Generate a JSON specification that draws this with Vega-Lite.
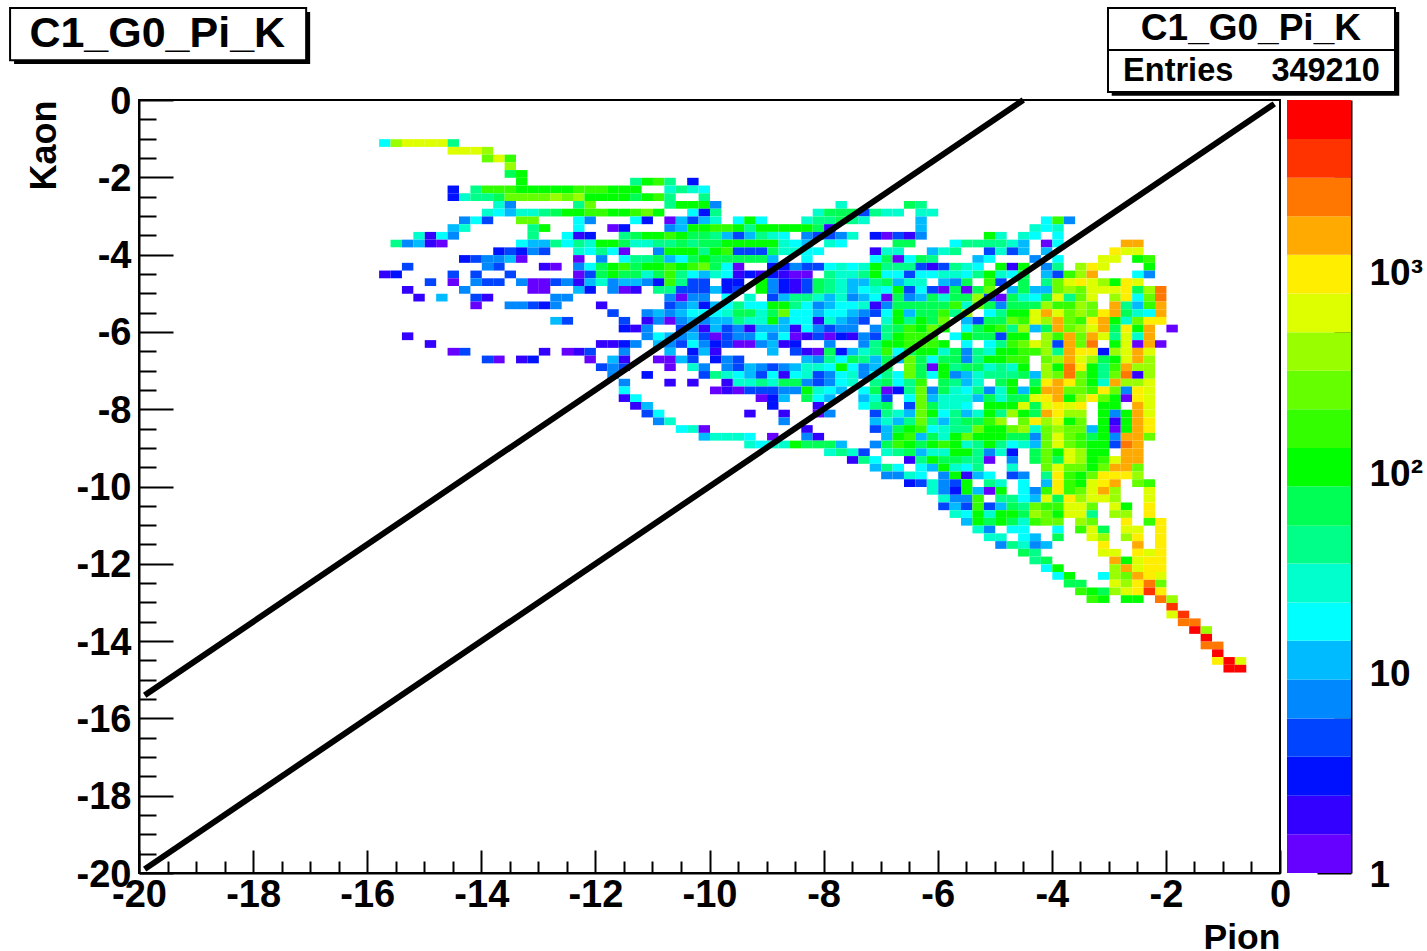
{"$schema":"https://vega.github.io/schema/vega-lite/v6.json","background":"white","padding":{"left":8,"top":6,"right":0,"bottom":0},"bounds":"flush","spacing":7,"config":{"view":{"stroke":null},"font":"Liberation Sans","axis":{"grid":false}},
"hconcat":[{"width":1141,"height":773,"view":{"stroke":"black","strokeWidth":2},"layer":[
{"data":{"values":[
{"x":-15.7,"y":-1.1,"n":18},{"x":-15.5,"y":-1.1,"n":395},{"x":-15.3,"y":-1.1,"n":610},{"x":-15.1,"y":-1.1,"n":610},{"x":-14.9,"y":-1.1,"n":610},{"x":-14.7,"y":-1.1,"n":610},{"x":-14.5,"y":-1.1,"n":43},
{"x":-14.5,"y":-1.3,"n":610},{"x":-14.3,"y":-1.3,"n":610},{"x":-14.1,"y":-1.3,"n":610},{"x":-13.9,"y":-1.3,"n":395},
{"x":-13.9,"y":-1.5,"n":255},{"x":-13.7,"y":-1.5,"n":610},{"x":-13.5,"y":-1.5,"n":165},
{"x":-13.5,"y":-1.7,"n":395},
{"x":-13.5,"y":-1.9,"n":66},{"x":-13.3,"y":-1.9,"n":105},
{"x":-13.3,"y":-2.1,"n":105},{"x":-11.3,"y":-2.1,"n":43},{"x":-11.1,"y":-2.1,"n":105},{"x":-10.9,"y":-2.1,"n":165},{"x":-10.7,"y":-2.1,"n":43},{"x":-10.3,"y":-2.1,"n":3},
{"x":-14.5,"y":-2.3,"n":3},{"x":-14.1,"y":-2.3,"n":43},{"x":-13.9,"y":-2.3,"n":165},{"x":-13.7,"y":-2.3,"n":165},{"x":-13.5,"y":-2.3,"n":165},{"x":-13.3,"y":-2.3,"n":105},{"x":-13.1,"y":-2.3,"n":105},{"x":-12.9,"y":-2.3,"n":105},{"x":-12.7,"y":-2.3,"n":105},{"x":-12.5,"y":-2.3,"n":105},{"x":-12.3,"y":-2.3,"n":165},{"x":-12.1,"y":-2.3,"n":165},{"x":-11.9,"y":-2.3,"n":165},{"x":-11.7,"y":-2.3,"n":105},{"x":-11.5,"y":-2.3,"n":105},{"x":-11.3,"y":-2.3,"n":105},{"x":-10.7,"y":-2.3,"n":28},{"x":-10.5,"y":-2.3,"n":43},{"x":-10.3,"y":-2.3,"n":28},{"x":-10.1,"y":-2.3,"n":18},
{"x":-14.5,"y":-2.5,"n":3},{"x":-14.3,"y":-2.5,"n":28},{"x":-14.1,"y":-2.5,"n":43},{"x":-13.9,"y":-2.5,"n":43},{"x":-13.7,"y":-2.5,"n":66},{"x":-13.5,"y":-2.5,"n":255},{"x":-13.3,"y":-2.5,"n":255},{"x":-13.1,"y":-2.5,"n":255},{"x":-12.9,"y":-2.5,"n":255},{"x":-12.7,"y":-2.5,"n":395},{"x":-12.5,"y":-2.5,"n":255},{"x":-12.3,"y":-2.5,"n":395},{"x":-12.1,"y":-2.5,"n":105},{"x":-11.9,"y":-2.5,"n":105},{"x":-11.7,"y":-2.5,"n":105},{"x":-11.5,"y":-2.5,"n":105},{"x":-11.3,"y":-2.5,"n":66},{"x":-11.1,"y":-2.5,"n":105},{"x":-10.9,"y":-2.5,"n":165},{"x":-10.7,"y":-2.5,"n":43},{"x":-10.1,"y":-2.5,"n":43},
{"x":-13.7,"y":-2.7,"n":28},{"x":-13.5,"y":-2.7,"n":8},{"x":-12.3,"y":-2.7,"n":43},{"x":-12.1,"y":-2.7,"n":255},{"x":-10.7,"y":-2.7,"n":43},{"x":-10.5,"y":-2.7,"n":105},{"x":-10.3,"y":-2.7,"n":105},{"x":-10.1,"y":-2.7,"n":105},{"x":-9.9,"y":-2.7,"n":8},{"x":-7.7,"y":-2.7,"n":28},{"x":-6.5,"y":-2.7,"n":66},{"x":-6.3,"y":-2.7,"n":43},
{"x":-13.9,"y":-2.9,"n":28},{"x":-13.7,"y":-2.9,"n":18},{"x":-13.5,"y":-2.9,"n":12},{"x":-13.3,"y":-2.9,"n":28},{"x":-13.1,"y":-2.9,"n":28},{"x":-12.9,"y":-2.9,"n":43},{"x":-12.7,"y":-2.9,"n":66},{"x":-12.5,"y":-2.9,"n":105},{"x":-12.3,"y":-2.9,"n":105},{"x":-12.1,"y":-2.9,"n":165},{"x":-11.9,"y":-2.9,"n":165},{"x":-11.7,"y":-2.9,"n":105},{"x":-11.5,"y":-2.9,"n":105},{"x":-11.3,"y":-2.9,"n":165},{"x":-11.1,"y":-2.9,"n":255},{"x":-10.9,"y":-2.9,"n":105},{"x":-10.3,"y":-2.9,"n":18},{"x":-10.1,"y":-2.9,"n":3},{"x":-9.9,"y":-2.9,"n":43},{"x":-8.1,"y":-2.9,"n":28},{"x":-7.9,"y":-2.9,"n":66},{"x":-7.7,"y":-2.9,"n":66},{"x":-7.5,"y":-2.9,"n":66},{"x":-7.3,"y":-2.9,"n":5},{"x":-7.1,"y":-2.9,"n":43},{"x":-6.9,"y":-2.9,"n":28},{"x":-6.7,"y":-2.9,"n":28},{"x":-6.3,"y":-2.9,"n":28},{"x":-6.1,"y":-2.9,"n":28},
{"x":-14.3,"y":-3.1,"n":8},{"x":-14.1,"y":-3.1,"n":18},{"x":-13.9,"y":-3.1,"n":5},{"x":-13.3,"y":-3.1,"n":255},{"x":-13.1,"y":-3.1,"n":255},{"x":-12.3,"y":-3.1,"n":18},{"x":-12.1,"y":-3.1,"n":8},{"x":-11.3,"y":-3.1,"n":18},{"x":-11.1,"y":-3.1,"n":3},{"x":-10.7,"y":-3.1,"n":1},{"x":-10.5,"y":-3.1,"n":12},{"x":-10.3,"y":-3.1,"n":5},{"x":-10.1,"y":-3.1,"n":12},{"x":-9.9,"y":-3.1,"n":28},{"x":-9.5,"y":-3.1,"n":18},{"x":-9.3,"y":-3.1,"n":105},{"x":-9.1,"y":-3.1,"n":18},{"x":-8.3,"y":-3.1,"n":28},{"x":-8.1,"y":-3.1,"n":43},{"x":-7.9,"y":-3.1,"n":43},{"x":-7.7,"y":-3.1,"n":66},{"x":-7.5,"y":-3.1,"n":43},{"x":-7.3,"y":-3.1,"n":28},{"x":-6.3,"y":-3.1,"n":12},{"x":-4.1,"y":-3.1,"n":18},{"x":-3.9,"y":-3.1,"n":165},{"x":-3.7,"y":-3.1,"n":8},
{"x":-14.5,"y":-3.3,"n":12},{"x":-14.3,"y":-3.3,"n":28},{"x":-13.1,"y":-3.3,"n":43},{"x":-12.9,"y":-3.3,"n":105},{"x":-12.3,"y":-3.3,"n":18},{"x":-11.7,"y":-3.3,"n":1},{"x":-11.5,"y":-3.3,"n":3},{"x":-10.7,"y":-3.3,"n":8},{"x":-10.5,"y":-3.3,"n":12},{"x":-10.3,"y":-3.3,"n":105},{"x":-10.1,"y":-3.3,"n":105},{"x":-9.9,"y":-3.3,"n":165},{"x":-9.7,"y":-3.3,"n":165},{"x":-9.5,"y":-3.3,"n":105},{"x":-9.3,"y":-3.3,"n":43},{"x":-9.1,"y":-3.3,"n":105},{"x":-8.9,"y":-3.3,"n":105},{"x":-8.7,"y":-3.3,"n":105},{"x":-8.5,"y":-3.3,"n":105},{"x":-8.3,"y":-3.3,"n":105},{"x":-8.1,"y":-3.3,"n":66},{"x":-7.9,"y":-3.3,"n":2},{"x":-6.3,"y":-3.3,"n":12},{"x":-4.3,"y":-3.3,"n":28},{"x":-4.1,"y":-3.3,"n":18},{"x":-3.9,"y":-3.3,"n":28},
{"x":-15.1,"y":-3.5,"n":28},{"x":-14.9,"y":-3.5,"n":2},{"x":-14.7,"y":-3.5,"n":18},{"x":-14.5,"y":-3.5,"n":8},{"x":-13.1,"y":-3.5,"n":43},{"x":-12.5,"y":-3.5,"n":18},{"x":-12.3,"y":-3.5,"n":2},{"x":-12.1,"y":-3.5,"n":3},{"x":-11.5,"y":-3.5,"n":43},{"x":-11.3,"y":-3.5,"n":66},{"x":-11.1,"y":-3.5,"n":105},{"x":-10.9,"y":-3.5,"n":105},{"x":-10.7,"y":-3.5,"n":165},{"x":-10.5,"y":-3.5,"n":105},{"x":-10.3,"y":-3.5,"n":66},{"x":-10.1,"y":-3.5,"n":66},{"x":-9.9,"y":-3.5,"n":43},{"x":-9.7,"y":-3.5,"n":12},{"x":-9.5,"y":-3.5,"n":5},{"x":-9.3,"y":-3.5,"n":12},{"x":-9.1,"y":-3.5,"n":43},{"x":-8.9,"y":-3.5,"n":28},{"x":-8.7,"y":-3.5,"n":18},{"x":-8.3,"y":-3.5,"n":8},{"x":-8.1,"y":-3.5,"n":5},{"x":-7.9,"y":-3.5,"n":5},{"x":-7.7,"y":-3.5,"n":8},{"x":-7.5,"y":-3.5,"n":28},{"x":-7.1,"y":-3.5,"n":3},{"x":-6.9,"y":-3.5,"n":1},{"x":-6.7,"y":-3.5,"n":5},{"x":-6.5,"y":-3.5,"n":2},{"x":-6.3,"y":-3.5,"n":8},{"x":-5.1,"y":-3.5,"n":105},{"x":-4.9,"y":-3.5,"n":28},{"x":-4.5,"y":-3.5,"n":28},{"x":-4.3,"y":-3.5,"n":18},{"x":-3.9,"y":-3.5,"n":18},
{"x":-15.5,"y":-3.7,"n":43},{"x":-15.3,"y":-3.7,"n":8},{"x":-15.1,"y":-3.7,"n":12},{"x":-14.9,"y":-3.7,"n":2},{"x":-14.7,"y":-3.7,"n":1},{"x":-13.3,"y":-3.7,"n":18},{"x":-13.1,"y":-3.7,"n":12},{"x":-12.9,"y":-3.7,"n":12},{"x":-12.7,"y":-3.7,"n":43},{"x":-12.5,"y":-3.7,"n":18},{"x":-12.3,"y":-3.7,"n":43},{"x":-12.1,"y":-3.7,"n":28},{"x":-11.9,"y":-3.7,"n":105},{"x":-11.7,"y":-3.7,"n":105},{"x":-11.5,"y":-3.7,"n":66},{"x":-11.3,"y":-3.7,"n":28},{"x":-11.1,"y":-3.7,"n":28},{"x":-10.9,"y":-3.7,"n":43},{"x":-10.7,"y":-3.7,"n":43},{"x":-10.5,"y":-3.7,"n":66},{"x":-10.3,"y":-3.7,"n":43},{"x":-10.1,"y":-3.7,"n":66},{"x":-9.9,"y":-3.7,"n":66},{"x":-9.7,"y":-3.7,"n":105},{"x":-9.5,"y":-3.7,"n":105},{"x":-9.3,"y":-3.7,"n":105},{"x":-9.1,"y":-3.7,"n":105},{"x":-8.9,"y":-3.7,"n":105},{"x":-8.7,"y":-3.7,"n":28},{"x":-8.5,"y":-3.7,"n":18},{"x":-8.3,"y":-3.7,"n":12},{"x":-7.9,"y":-3.7,"n":28},{"x":-7.7,"y":-3.7,"n":18},{"x":-6.7,"y":-3.7,"n":66},{"x":-6.5,"y":-3.7,"n":66},{"x":-5.7,"y":-3.7,"n":18},{"x":-5.5,"y":-3.7,"n":43},{"x":-5.3,"y":-3.7,"n":43},{"x":-5.1,"y":-3.7,"n":43},{"x":-4.9,"y":-3.7,"n":43},{"x":-4.7,"y":-3.7,"n":28},{"x":-4.5,"y":-3.7,"n":12},{"x":-4.1,"y":-3.7,"n":1},{"x":-3.9,"y":-3.7,"n":18},{"x":-2.7,"y":-3.7,"n":1460},{"x":-2.5,"y":-3.7,"n":1460},
{"x":-13.7,"y":-3.9,"n":3},{"x":-13.5,"y":-3.9,"n":5},{"x":-13.3,"y":-3.9,"n":3},{"x":-13.1,"y":-3.9,"n":8},{"x":-12.9,"y":-3.9,"n":5},{"x":-12.3,"y":-3.9,"n":28},{"x":-12.1,"y":-3.9,"n":18},{"x":-11.9,"y":-3.9,"n":43},{"x":-11.7,"y":-3.9,"n":18},{"x":-11.5,"y":-3.9,"n":1},{"x":-10.9,"y":-3.9,"n":8},{"x":-10.7,"y":-3.9,"n":105},{"x":-10.5,"y":-3.9,"n":105},{"x":-10.3,"y":-3.9,"n":105},{"x":-10.1,"y":-3.9,"n":43},{"x":-9.9,"y":-3.9,"n":105},{"x":-9.7,"y":-3.9,"n":165},{"x":-9.5,"y":-3.9,"n":5},{"x":-9.3,"y":-3.9,"n":5},{"x":-9.1,"y":-3.9,"n":5},{"x":-8.9,"y":-3.9,"n":66},{"x":-8.7,"y":-3.9,"n":28},{"x":-8.5,"y":-3.9,"n":28},{"x":-8.3,"y":-3.9,"n":18},{"x":-8.1,"y":-3.9,"n":18},{"x":-7.1,"y":-3.9,"n":2},{"x":-6.9,"y":-3.9,"n":28},{"x":-6.7,"y":-3.9,"n":28},{"x":-6.1,"y":-3.9,"n":12},{"x":-5.9,"y":-3.9,"n":28},{"x":-5.7,"y":-3.9,"n":43},{"x":-5.1,"y":-3.9,"n":5},{"x":-4.9,"y":-3.9,"n":28},{"x":-4.7,"y":-3.9,"n":5},{"x":-4.5,"y":-3.9,"n":12},{"x":-4.1,"y":-3.9,"n":12},{"x":-2.9,"y":-3.9,"n":950},{"x":-2.7,"y":-3.9,"n":610},{"x":-2.5,"y":-3.9,"n":610},
{"x":-14.3,"y":-4.1,"n":3},{"x":-14.1,"y":-4.1,"n":5},{"x":-13.9,"y":-4.1,"n":8},{"x":-13.7,"y":-4.1,"n":8},{"x":-13.5,"y":-4.1,"n":12},{"x":-13.3,"y":-4.1,"n":1},{"x":-12.3,"y":-4.1,"n":1},{"x":-11.9,"y":-4.1,"n":8},{"x":-11.5,"y":-4.1,"n":18},{"x":-11.3,"y":-4.1,"n":43},{"x":-11.1,"y":-4.1,"n":43},{"x":-10.9,"y":-4.1,"n":66},{"x":-10.7,"y":-4.1,"n":12},{"x":-10.5,"y":-4.1,"n":18},{"x":-10.3,"y":-4.1,"n":66},{"x":-10.1,"y":-4.1,"n":105},{"x":-9.9,"y":-4.1,"n":66},{"x":-9.7,"y":-4.1,"n":66},{"x":-9.5,"y":-4.1,"n":66},{"x":-9.3,"y":-4.1,"n":66},{"x":-9.1,"y":-4.1,"n":66},{"x":-8.9,"y":-4.1,"n":12},{"x":-8.3,"y":-4.1,"n":18},{"x":-7.1,"y":-4.1,"n":18},{"x":-6.9,"y":-4.1,"n":66},{"x":-6.7,"y":-4.1,"n":1},{"x":-6.5,"y":-4.1,"n":18},{"x":-6.3,"y":-4.1,"n":66},{"x":-6.1,"y":-4.1,"n":43},{"x":-5.3,"y":-4.1,"n":12},{"x":-5.1,"y":-4.1,"n":18},{"x":-4.3,"y":-4.1,"n":8},{"x":-3.9,"y":-4.1,"n":18},{"x":-3.1,"y":-4.1,"n":610},{"x":-2.9,"y":-4.1,"n":610},{"x":-2.5,"y":-4.1,"n":105},{"x":-2.3,"y":-4.1,"n":165},
{"x":-15.3,"y":-4.3,"n":5},{"x":-13.9,"y":-4.3,"n":8},{"x":-13.7,"y":-4.3,"n":5},{"x":-12.9,"y":-4.3,"n":2},{"x":-12.7,"y":-4.3,"n":1},{"x":-12.3,"y":-4.3,"n":8},{"x":-12.1,"y":-4.3,"n":18},{"x":-11.9,"y":-4.3,"n":66},{"x":-11.7,"y":-4.3,"n":105},{"x":-11.5,"y":-4.3,"n":165},{"x":-11.3,"y":-4.3,"n":66},{"x":-11.1,"y":-4.3,"n":105},{"x":-10.9,"y":-4.3,"n":105},{"x":-10.7,"y":-4.3,"n":165},{"x":-10.5,"y":-4.3,"n":105},{"x":-10.3,"y":-4.3,"n":165},{"x":-10.1,"y":-4.3,"n":255},{"x":-9.9,"y":-4.3,"n":66},{"x":-9.7,"y":-4.3,"n":18},{"x":-9.5,"y":-4.3,"n":1},{"x":-8.9,"y":-4.3,"n":3},{"x":-8.7,"y":-4.3,"n":3},{"x":-8.5,"y":-4.3,"n":8},{"x":-8.3,"y":-4.3,"n":5},{"x":-8.1,"y":-4.3,"n":5},{"x":-7.9,"y":-4.3,"n":18},{"x":-7.7,"y":-4.3,"n":28},{"x":-7.5,"y":-4.3,"n":18},{"x":-7.3,"y":-4.3,"n":28},{"x":-7.1,"y":-4.3,"n":105},{"x":-6.9,"y":-4.3,"n":43},{"x":-6.7,"y":-4.3,"n":43},{"x":-6.5,"y":-4.3,"n":43},{"x":-6.3,"y":-4.3,"n":5},{"x":-6.1,"y":-4.3,"n":2},{"x":-5.9,"y":-4.3,"n":5},{"x":-5.7,"y":-4.3,"n":43},{"x":-5.5,"y":-4.3,"n":28},{"x":-5.3,"y":-4.3,"n":18},{"x":-4.9,"y":-4.3,"n":105},{"x":-4.7,"y":-4.3,"n":2},{"x":-4.5,"y":-4.3,"n":105},{"x":-4.1,"y":-4.3,"n":8},{"x":-3.9,"y":-4.3,"n":43},{"x":-3.5,"y":-4.3,"n":395},{"x":-3.3,"y":-4.3,"n":950},{"x":-3.1,"y":-4.3,"n":610},{"x":-2.3,"y":-4.3,"n":105},
{"x":-15.7,"y":-4.5,"n":2},{"x":-15.5,"y":-4.5,"n":3},{"x":-14.5,"y":-4.5,"n":5},{"x":-14.1,"y":-4.5,"n":5},{"x":-13.5,"y":-4.5,"n":5},{"x":-12.3,"y":-4.5,"n":1},{"x":-12.1,"y":-4.5,"n":5},{"x":-11.9,"y":-4.5,"n":66},{"x":-11.7,"y":-4.5,"n":105},{"x":-11.5,"y":-4.5,"n":66},{"x":-11.3,"y":-4.5,"n":66},{"x":-11.1,"y":-4.5,"n":28},{"x":-10.9,"y":-4.5,"n":66},{"x":-10.7,"y":-4.5,"n":165},{"x":-10.5,"y":-4.5,"n":43},{"x":-10.3,"y":-4.5,"n":18},{"x":-10.1,"y":-4.5,"n":12},{"x":-9.9,"y":-4.5,"n":28},{"x":-9.7,"y":-4.5,"n":18},{"x":-9.5,"y":-4.5,"n":2},{"x":-9.3,"y":-4.5,"n":3},{"x":-9.1,"y":-4.5,"n":2},{"x":-8.9,"y":-4.5,"n":3},{"x":-8.7,"y":-4.5,"n":2},{"x":-8.5,"y":-4.5,"n":1},{"x":-8.3,"y":-4.5,"n":1},{"x":-7.9,"y":-4.5,"n":43},{"x":-7.7,"y":-4.5,"n":28},{"x":-7.5,"y":-4.5,"n":28},{"x":-7.3,"y":-4.5,"n":43},{"x":-7.1,"y":-4.5,"n":105},{"x":-6.9,"y":-4.5,"n":18},{"x":-6.7,"y":-4.5,"n":18},{"x":-6.5,"y":-4.5,"n":5},{"x":-6.3,"y":-4.5,"n":18},{"x":-6.1,"y":-4.5,"n":18},{"x":-5.9,"y":-4.5,"n":28},{"x":-5.7,"y":-4.5,"n":28},{"x":-5.5,"y":-4.5,"n":18},{"x":-5.3,"y":-4.5,"n":43},{"x":-5.1,"y":-4.5,"n":105},{"x":-4.9,"y":-4.5,"n":28},{"x":-4.7,"y":-4.5,"n":18},{"x":-4.5,"y":-4.5,"n":66},{"x":-4.1,"y":-4.5,"n":12},{"x":-3.9,"y":-4.5,"n":5},{"x":-3.7,"y":-4.5,"n":165},{"x":-3.5,"y":-4.5,"n":395},{"x":-3.3,"y":-4.5,"n":1460},{"x":-2.5,"y":-4.5,"n":18},{"x":-2.3,"y":-4.5,"n":8},
{"x":-14.9,"y":-4.7,"n":5},{"x":-14.5,"y":-4.7,"n":1},{"x":-14.1,"y":-4.7,"n":8},{"x":-13.9,"y":-4.7,"n":5},{"x":-13.7,"y":-4.7,"n":5},{"x":-13.3,"y":-4.7,"n":8},{"x":-13.1,"y":-4.7,"n":1},{"x":-12.9,"y":-4.7,"n":1},{"x":-12.7,"y":-4.7,"n":5},{"x":-12.5,"y":-4.7,"n":8},{"x":-12.3,"y":-4.7,"n":2},{"x":-12.1,"y":-4.7,"n":12},{"x":-11.9,"y":-4.7,"n":28},{"x":-11.7,"y":-4.7,"n":8},{"x":-11.5,"y":-4.7,"n":12},{"x":-11.3,"y":-4.7,"n":12},{"x":-11.1,"y":-4.7,"n":8},{"x":-10.9,"y":-4.7,"n":3},{"x":-10.7,"y":-4.7,"n":165},{"x":-10.5,"y":-4.7,"n":43},{"x":-10.3,"y":-4.7,"n":5},{"x":-10.1,"y":-4.7,"n":5},{"x":-9.7,"y":-4.7,"n":3},{"x":-9.5,"y":-4.7,"n":3},{"x":-9.1,"y":-4.7,"n":105},{"x":-8.9,"y":-4.7,"n":8},{"x":-8.7,"y":-4.7,"n":3},{"x":-8.5,"y":-4.7,"n":2},{"x":-8.3,"y":-4.7,"n":5},{"x":-8.1,"y":-4.7,"n":66},{"x":-7.9,"y":-4.7,"n":43},{"x":-7.7,"y":-4.7,"n":28},{"x":-7.5,"y":-4.7,"n":12},{"x":-7.3,"y":-4.7,"n":12},{"x":-7.1,"y":-4.7,"n":43},{"x":-6.9,"y":-4.7,"n":66},{"x":-6.7,"y":-4.7,"n":12},{"x":-6.5,"y":-4.7,"n":28},{"x":-6.3,"y":-4.7,"n":28},{"x":-5.9,"y":-4.7,"n":12},{"x":-5.7,"y":-4.7,"n":8},{"x":-5.5,"y":-4.7,"n":66},{"x":-5.1,"y":-4.7,"n":165},{"x":-4.9,"y":-4.7,"n":5},{"x":-4.5,"y":-4.7,"n":66},{"x":-4.1,"y":-4.7,"n":43},{"x":-3.9,"y":-4.7,"n":255},{"x":-3.7,"y":-4.7,"n":610},{"x":-3.5,"y":-4.7,"n":950},{"x":-3.3,"y":-4.7,"n":610},{"x":-3.1,"y":-4.7,"n":395},{"x":-2.9,"y":-4.7,"n":105},{"x":-2.7,"y":-4.7,"n":950},{"x":-2.5,"y":-4.7,"n":610},
{"x":-15.3,"y":-4.9,"n":2},{"x":-14.3,"y":-4.9,"n":8},{"x":-13.1,"y":-4.9,"n":1},{"x":-12.9,"y":-4.9,"n":1},{"x":-12.3,"y":-4.9,"n":12},{"x":-12.1,"y":-4.9,"n":3},{"x":-11.7,"y":-4.9,"n":8},{"x":-11.5,"y":-4.9,"n":1},{"x":-11.3,"y":-4.9,"n":2},{"x":-10.9,"y":-4.9,"n":43},{"x":-10.7,"y":-4.9,"n":43},{"x":-10.5,"y":-4.9,"n":5},{"x":-10.3,"y":-4.9,"n":5},{"x":-10.1,"y":-4.9,"n":5},{"x":-9.9,"y":-4.9,"n":12},{"x":-9.7,"y":-4.9,"n":3},{"x":-9.5,"y":-4.9,"n":5},{"x":-9.1,"y":-4.9,"n":105},{"x":-8.9,"y":-4.9,"n":8},{"x":-8.7,"y":-4.9,"n":3},{"x":-8.5,"y":-4.9,"n":2},{"x":-8.3,"y":-4.9,"n":5},{"x":-8.1,"y":-4.9,"n":66},{"x":-7.9,"y":-4.9,"n":43},{"x":-7.7,"y":-4.9,"n":28},{"x":-7.5,"y":-4.9,"n":12},{"x":-7.3,"y":-4.9,"n":18},{"x":-7.1,"y":-4.9,"n":28},{"x":-6.9,"y":-4.9,"n":18},{"x":-6.7,"y":-4.9,"n":105},{"x":-6.5,"y":-4.9,"n":5},{"x":-6.3,"y":-4.9,"n":18},{"x":-6.1,"y":-4.9,"n":5},{"x":-5.9,"y":-4.9,"n":1},{"x":-5.7,"y":-4.9,"n":66},{"x":-5.5,"y":-4.9,"n":1},{"x":-5.3,"y":-4.9,"n":66},{"x":-5.1,"y":-4.9,"n":255},{"x":-4.7,"y":-4.9,"n":12},{"x":-4.5,"y":-4.9,"n":66},{"x":-4.3,"y":-4.9,"n":12},{"x":-4.1,"y":-4.9,"n":12},{"x":-3.9,"y":-4.9,"n":255},{"x":-3.7,"y":-4.9,"n":395},{"x":-3.5,"y":-4.9,"n":255},{"x":-3.3,"y":-4.9,"n":610},{"x":-3.1,"y":-4.9,"n":610},{"x":-2.9,"y":-4.9,"n":610},{"x":-2.7,"y":-4.9,"n":950},{"x":-2.5,"y":-4.9,"n":66},{"x":-2.3,"y":-4.9,"n":395},{"x":-2.1,"y":-4.9,"n":2260},
{"x":-15.1,"y":-5.1,"n":2},{"x":-14.7,"y":-5.1,"n":12},{"x":-14.1,"y":-5.1,"n":5},{"x":-13.9,"y":-5.1,"n":2},{"x":-12.7,"y":-5.1,"n":8},{"x":-12.5,"y":-5.1,"n":8},{"x":-10.7,"y":-5.1,"n":8},{"x":-10.5,"y":-5.1,"n":1},{"x":-10.3,"y":-5.1,"n":8},{"x":-10.1,"y":-5.1,"n":8},{"x":-9.7,"y":-5.1,"n":18},{"x":-9.3,"y":-5.1,"n":28},{"x":-8.9,"y":-5.1,"n":5},{"x":-8.7,"y":-5.1,"n":12},{"x":-8.5,"y":-5.1,"n":43},{"x":-8.3,"y":-5.1,"n":43},{"x":-8.1,"y":-5.1,"n":28},{"x":-7.9,"y":-5.1,"n":12},{"x":-7.7,"y":-5.1,"n":28},{"x":-7.5,"y":-5.1,"n":8},{"x":-7.3,"y":-5.1,"n":12},{"x":-7.1,"y":-5.1,"n":18},{"x":-6.9,"y":-5.1,"n":1},{"x":-6.7,"y":-5.1,"n":66},{"x":-6.5,"y":-5.1,"n":8},{"x":-6.3,"y":-5.1,"n":12},{"x":-6.1,"y":-5.1,"n":66},{"x":-5.9,"y":-5.1,"n":28},{"x":-5.7,"y":-5.1,"n":66},{"x":-5.5,"y":-5.1,"n":66},{"x":-5.3,"y":-5.1,"n":395},{"x":-5.1,"y":-5.1,"n":5},{"x":-4.9,"y":-5.1,"n":1},{"x":-4.7,"y":-5.1,"n":66},{"x":-4.5,"y":-5.1,"n":28},{"x":-4.3,"y":-5.1,"n":18},{"x":-4.1,"y":-5.1,"n":66},{"x":-3.9,"y":-5.1,"n":610},{"x":-3.7,"y":-5.1,"n":43},{"x":-3.5,"y":-5.1,"n":255},{"x":-3.3,"y":-5.1,"n":610},{"x":-2.9,"y":-5.1,"n":395},{"x":-2.7,"y":-5.1,"n":950},{"x":-2.5,"y":-5.1,"n":18},{"x":-2.3,"y":-5.1,"n":255},{"x":-2.1,"y":-5.1,"n":2260},
{"x":-14.1,"y":-5.3,"n":1},{"x":-13.5,"y":-5.3,"n":8},{"x":-13.3,"y":-5.3,"n":8},{"x":-13.1,"y":-5.3,"n":5},{"x":-12.9,"y":-5.3,"n":3},{"x":-12.7,"y":-5.3,"n":8},{"x":-11.9,"y":-5.3,"n":2},{"x":-10.7,"y":-5.3,"n":5},{"x":-10.5,"y":-5.3,"n":8},{"x":-10.3,"y":-5.3,"n":12},{"x":-10.1,"y":-5.3,"n":3},{"x":-9.9,"y":-5.3,"n":12},{"x":-9.7,"y":-5.3,"n":18},{"x":-9.5,"y":-5.3,"n":43},{"x":-9.3,"y":-5.3,"n":18},{"x":-9.1,"y":-5.3,"n":18},{"x":-8.9,"y":-5.3,"n":105},{"x":-8.7,"y":-5.3,"n":105},{"x":-8.5,"y":-5.3,"n":43},{"x":-8.3,"y":-5.3,"n":18},{"x":-8.1,"y":-5.3,"n":8},{"x":-7.9,"y":-5.3,"n":12},{"x":-7.7,"y":-5.3,"n":18},{"x":-7.5,"y":-5.3,"n":18},{"x":-7.3,"y":-5.3,"n":28},{"x":-7.1,"y":-5.3,"n":2},{"x":-6.9,"y":-5.3,"n":8},{"x":-6.7,"y":-5.3,"n":66},{"x":-6.5,"y":-5.3,"n":66},{"x":-6.3,"y":-5.3,"n":66},{"x":-6.1,"y":-5.3,"n":66},{"x":-5.9,"y":-5.3,"n":66},{"x":-5.7,"y":-5.3,"n":165},{"x":-5.5,"y":-5.3,"n":28},{"x":-5.3,"y":-5.3,"n":255},{"x":-5.1,"y":-5.3,"n":66},{"x":-4.9,"y":-5.3,"n":8},{"x":-4.7,"y":-5.3,"n":66},{"x":-4.5,"y":-5.3,"n":66},{"x":-4.3,"y":-5.3,"n":66},{"x":-4.1,"y":-5.3,"n":395},{"x":-3.9,"y":-5.3,"n":165},{"x":-3.7,"y":-5.3,"n":165},{"x":-3.5,"y":-5.3,"n":395},{"x":-3.3,"y":-5.3,"n":255},{"x":-2.9,"y":-5.3,"n":1460},{"x":-2.7,"y":-5.3,"n":43},{"x":-2.5,"y":-5.3,"n":12},{"x":-2.3,"y":-5.3,"n":165},{"x":-2.1,"y":-5.3,"n":1460},
{"x":-11.7,"y":-5.5,"n":5},{"x":-11.1,"y":-5.5,"n":8},{"x":-10.9,"y":-5.5,"n":12},{"x":-10.7,"y":-5.5,"n":8},{"x":-10.5,"y":-5.5,"n":12},{"x":-10.3,"y":-5.5,"n":18},{"x":-10.1,"y":-5.5,"n":18},{"x":-9.9,"y":-5.5,"n":18},{"x":-9.7,"y":-5.5,"n":28},{"x":-9.5,"y":-5.5,"n":66},{"x":-9.3,"y":-5.5,"n":66},{"x":-9.1,"y":-5.5,"n":28},{"x":-8.9,"y":-5.5,"n":66},{"x":-8.7,"y":-5.5,"n":255},{"x":-8.5,"y":-5.5,"n":18},{"x":-8.3,"y":-5.5,"n":18},{"x":-8.1,"y":-5.5,"n":12},{"x":-7.9,"y":-5.5,"n":18},{"x":-7.7,"y":-5.5,"n":18},{"x":-7.5,"y":-5.5,"n":12},{"x":-7.3,"y":-5.5,"n":8},{"x":-7.1,"y":-5.5,"n":5},{"x":-6.9,"y":-5.5,"n":18},{"x":-6.7,"y":-5.5,"n":105},{"x":-6.5,"y":-5.5,"n":12},{"x":-6.3,"y":-5.5,"n":66},{"x":-6.1,"y":-5.5,"n":66},{"x":-5.9,"y":-5.5,"n":165},{"x":-5.7,"y":-5.5,"n":43},{"x":-5.5,"y":-5.5,"n":395},{"x":-5.1,"y":-5.5,"n":18},{"x":-4.9,"y":-5.5,"n":43},{"x":-4.7,"y":-5.5,"n":105},{"x":-4.5,"y":-5.5,"n":105},{"x":-4.3,"y":-5.5,"n":610},{"x":-4.1,"y":-5.5,"n":1460},{"x":-3.9,"y":-5.5,"n":610},{"x":-3.7,"y":-5.5,"n":255},{"x":-3.5,"y":-5.5,"n":395},{"x":-3.3,"y":-5.5,"n":255},{"x":-3.1,"y":-5.5,"n":950},{"x":-2.9,"y":-5.5,"n":1460},{"x":-2.7,"y":-5.5,"n":66},{"x":-2.5,"y":-5.5,"n":28},{"x":-2.3,"y":-5.5,"n":18},{"x":-2.1,"y":-5.5,"n":1460},
{"x":-12.7,"y":-5.7,"n":12},{"x":-12.5,"y":-5.7,"n":5},{"x":-11.5,"y":-5.7,"n":5},{"x":-11.1,"y":-5.7,"n":2},{"x":-10.9,"y":-5.7,"n":8},{"x":-10.7,"y":-5.7,"n":1},{"x":-10.5,"y":-5.7,"n":8},{"x":-10.3,"y":-5.7,"n":12},{"x":-10.1,"y":-5.7,"n":8},{"x":-9.9,"y":-5.7,"n":12},{"x":-9.7,"y":-5.7,"n":12},{"x":-9.5,"y":-5.7,"n":43},{"x":-9.3,"y":-5.7,"n":28},{"x":-9.1,"y":-5.7,"n":28},{"x":-8.9,"y":-5.7,"n":105},{"x":-8.7,"y":-5.7,"n":12},{"x":-8.5,"y":-5.7,"n":18},{"x":-8.3,"y":-5.7,"n":18},{"x":-8.1,"y":-5.7,"n":2},{"x":-7.9,"y":-5.7,"n":28},{"x":-7.7,"y":-5.7,"n":12},{"x":-7.5,"y":-5.7,"n":8},{"x":-7.3,"y":-5.7,"n":5},{"x":-6.9,"y":-5.7,"n":28},{"x":-6.7,"y":-5.7,"n":105},{"x":-6.5,"y":-5.7,"n":43},{"x":-6.3,"y":-5.7,"n":105},{"x":-6.1,"y":-5.7,"n":66},{"x":-5.9,"y":-5.7,"n":255},{"x":-5.5,"y":-5.7,"n":12},{"x":-5.3,"y":-5.7,"n":5},{"x":-5.1,"y":-5.7,"n":66},{"x":-4.9,"y":-5.7,"n":66},{"x":-4.7,"y":-5.7,"n":255},{"x":-4.5,"y":-5.7,"n":165},{"x":-4.3,"y":-5.7,"n":610},{"x":-4.1,"y":-5.7,"n":395},{"x":-3.9,"y":-5.7,"n":1460},{"x":-3.7,"y":-5.7,"n":255},{"x":-3.5,"y":-5.7,"n":165},{"x":-3.3,"y":-5.7,"n":950},{"x":-3.1,"y":-5.7,"n":1460},{"x":-2.9,"y":-5.7,"n":105},{"x":-2.7,"y":-5.7,"n":28},{"x":-2.5,"y":-5.7,"n":255},{"x":-2.3,"y":-5.7,"n":950},{"x":-2.1,"y":-5.7,"n":950},
{"x":-11.5,"y":-5.9,"n":3},{"x":-11.3,"y":-5.9,"n":2},{"x":-11.1,"y":-5.9,"n":8},{"x":-10.5,"y":-5.9,"n":5},{"x":-10.3,"y":-5.9,"n":8},{"x":-10.1,"y":-5.9,"n":2},{"x":-9.9,"y":-5.9,"n":12},{"x":-9.7,"y":-5.9,"n":5},{"x":-9.5,"y":-5.9,"n":8},{"x":-9.3,"y":-5.9,"n":2},{"x":-9.1,"y":-5.9,"n":12},{"x":-8.9,"y":-5.9,"n":12},{"x":-8.7,"y":-5.9,"n":12},{"x":-8.5,"y":-5.9,"n":2},{"x":-8.3,"y":-5.9,"n":18},{"x":-8.1,"y":-5.9,"n":8},{"x":-7.9,"y":-5.9,"n":5},{"x":-7.7,"y":-5.9,"n":8},{"x":-7.5,"y":-5.9,"n":8},{"x":-7.1,"y":-5.9,"n":8},{"x":-6.9,"y":-5.9,"n":43},{"x":-6.7,"y":-5.9,"n":66},{"x":-6.5,"y":-5.9,"n":165},{"x":-6.3,"y":-5.9,"n":105},{"x":-6.1,"y":-5.9,"n":255},{"x":-5.9,"y":-5.9,"n":105},{"x":-5.5,"y":-5.9,"n":18},{"x":-5.3,"y":-5.9,"n":66},{"x":-5.1,"y":-5.9,"n":105},{"x":-4.9,"y":-5.9,"n":165},{"x":-4.7,"y":-5.9,"n":43},{"x":-4.5,"y":-5.9,"n":395},{"x":-4.3,"y":-5.9,"n":12},{"x":-4.1,"y":-5.9,"n":66},{"x":-3.9,"y":-5.9,"n":1460},{"x":-3.7,"y":-5.9,"n":255},{"x":-3.5,"y":-5.9,"n":395},{"x":-3.3,"y":-5.9,"n":610},{"x":-3.1,"y":-5.9,"n":1460},{"x":-2.9,"y":-5.9,"n":66},{"x":-2.7,"y":-5.9,"n":950},{"x":-2.5,"y":-5.9,"n":105},{"x":-2.3,"y":-5.9,"n":1460},{"x":-1.9,"y":-5.9,"n":1},
{"x":-15.3,"y":-6.1,"n":2},{"x":-11.1,"y":-6.1,"n":8},{"x":-10.9,"y":-6.1,"n":18},{"x":-10.7,"y":-6.1,"n":12},{"x":-10.5,"y":-6.1,"n":8},{"x":-10.3,"y":-6.1,"n":12},{"x":-10.1,"y":-6.1,"n":5},{"x":-9.9,"y":-6.1,"n":1},{"x":-9.7,"y":-6.1,"n":5},{"x":-9.5,"y":-6.1,"n":8},{"x":-9.3,"y":-6.1,"n":8},{"x":-9.1,"y":-6.1,"n":18},{"x":-8.9,"y":-6.1,"n":8},{"x":-8.7,"y":-6.1,"n":18},{"x":-8.5,"y":-6.1,"n":1},{"x":-8.3,"y":-6.1,"n":2},{"x":-8.1,"y":-6.1,"n":5},{"x":-7.9,"y":-6.1,"n":1},{"x":-7.7,"y":-6.1,"n":3},{"x":-7.5,"y":-6.1,"n":2},{"x":-7.3,"y":-6.1,"n":8},{"x":-7.1,"y":-6.1,"n":5},{"x":-6.9,"y":-6.1,"n":43},{"x":-6.7,"y":-6.1,"n":105},{"x":-6.5,"y":-6.1,"n":165},{"x":-6.3,"y":-6.1,"n":165},{"x":-6.1,"y":-6.1,"n":165},{"x":-5.7,"y":-6.1,"n":18},{"x":-5.5,"y":-6.1,"n":105},{"x":-5.3,"y":-6.1,"n":66},{"x":-5.1,"y":-6.1,"n":66},{"x":-4.9,"y":-6.1,"n":5},{"x":-4.7,"y":-6.1,"n":105},{"x":-4.5,"y":-6.1,"n":105},{"x":-4.1,"y":-6.1,"n":395},{"x":-3.9,"y":-6.1,"n":165},{"x":-3.7,"y":-6.1,"n":1460},{"x":-3.5,"y":-6.1,"n":255},{"x":-3.3,"y":-6.1,"n":1460},{"x":-3.1,"y":-6.1,"n":610},{"x":-2.9,"y":-6.1,"n":43},{"x":-2.7,"y":-6.1,"n":610},{"x":-2.5,"y":-6.1,"n":28},{"x":-2.3,"y":-6.1,"n":1460},
{"x":-14.9,"y":-6.3,"n":2},{"x":-11.9,"y":-6.3,"n":2},{"x":-11.7,"y":-6.3,"n":2},{"x":-11.5,"y":-6.3,"n":3},{"x":-11.3,"y":-6.3,"n":8},{"x":-10.9,"y":-6.3,"n":12},{"x":-10.7,"y":-6.3,"n":8},{"x":-10.5,"y":-6.3,"n":5},{"x":-10.3,"y":-6.3,"n":18},{"x":-10.1,"y":-6.3,"n":8},{"x":-9.9,"y":-6.3,"n":3},{"x":-9.7,"y":-6.3,"n":5},{"x":-9.5,"y":-6.3,"n":1},{"x":-9.3,"y":-6.3,"n":1},{"x":-9.1,"y":-6.3,"n":8},{"x":-8.9,"y":-6.3,"n":12},{"x":-8.7,"y":-6.3,"n":2},{"x":-8.5,"y":-6.3,"n":3},{"x":-7.9,"y":-6.3,"n":8},{"x":-7.3,"y":-6.3,"n":8},{"x":-7.1,"y":-6.3,"n":43},{"x":-6.9,"y":-6.3,"n":105},{"x":-6.7,"y":-6.3,"n":105},{"x":-6.5,"y":-6.3,"n":165},{"x":-6.3,"y":-6.3,"n":165},{"x":-6.1,"y":-6.3,"n":165},{"x":-5.9,"y":-6.3,"n":105},{"x":-5.5,"y":-6.3,"n":18},{"x":-5.1,"y":-6.3,"n":18},{"x":-4.9,"y":-6.3,"n":43},{"x":-4.7,"y":-6.3,"n":165},{"x":-4.5,"y":-6.3,"n":255},{"x":-4.3,"y":-6.3,"n":610},{"x":-4.1,"y":-6.3,"n":395},{"x":-3.9,"y":-6.3,"n":5},{"x":-3.7,"y":-6.3,"n":1460},{"x":-3.5,"y":-6.3,"n":255},{"x":-3.3,"y":-6.3,"n":2260},{"x":-2.9,"y":-6.3,"n":105},{"x":-2.7,"y":-6.3,"n":610},{"x":-2.5,"y":-6.3,"n":1},{"x":-2.3,"y":-6.3,"n":1460},{"x":-2.1,"y":-6.3,"n":1},
{"x":-14.5,"y":-6.5,"n":1},{"x":-14.3,"y":-6.5,"n":5},{"x":-12.9,"y":-6.5,"n":2},{"x":-12.5,"y":-6.5,"n":1},{"x":-12.3,"y":-6.5,"n":2},{"x":-12.1,"y":-6.5,"n":5},{"x":-11.5,"y":-6.5,"n":8},{"x":-10.7,"y":-6.5,"n":12},{"x":-10.3,"y":-6.5,"n":3},{"x":-10.1,"y":-6.5,"n":12},{"x":-9.9,"y":-6.5,"n":2},{"x":-8.9,"y":-6.5,"n":12},{"x":-8.5,"y":-6.5,"n":5},{"x":-8.3,"y":-6.5,"n":2},{"x":-8.1,"y":-6.5,"n":1},{"x":-7.9,"y":-6.5,"n":66},{"x":-7.7,"y":-6.5,"n":3},{"x":-7.5,"y":-6.5,"n":12},{"x":-7.3,"y":-6.5,"n":28},{"x":-7.1,"y":-6.5,"n":43},{"x":-6.9,"y":-6.5,"n":165},{"x":-6.7,"y":-6.5,"n":18},{"x":-6.5,"y":-6.5,"n":66},{"x":-6.3,"y":-6.5,"n":105},{"x":-6.1,"y":-6.5,"n":105},{"x":-5.9,"y":-6.5,"n":28},{"x":-5.7,"y":-6.5,"n":66},{"x":-5.5,"y":-6.5,"n":8},{"x":-5.3,"y":-6.5,"n":43},{"x":-5.1,"y":-6.5,"n":28},{"x":-4.9,"y":-6.5,"n":105},{"x":-4.7,"y":-6.5,"n":105},{"x":-4.5,"y":-6.5,"n":165},{"x":-4.3,"y":-6.5,"n":165},{"x":-4.1,"y":-6.5,"n":395},{"x":-3.9,"y":-6.5,"n":43},{"x":-3.7,"y":-6.5,"n":1460},{"x":-3.5,"y":-6.5,"n":950},{"x":-3.3,"y":-6.5,"n":950},{"x":-3.1,"y":-6.5,"n":3},{"x":-2.9,"y":-6.5,"n":395},{"x":-2.7,"y":-6.5,"n":610},{"x":-2.5,"y":-6.5,"n":1460},{"x":-2.3,"y":-6.5,"n":610},
{"x":-13.9,"y":-6.7,"n":5},{"x":-13.7,"y":-6.7,"n":1},{"x":-13.3,"y":-6.7,"n":2},{"x":-13.1,"y":-6.7,"n":3},{"x":-12.1,"y":-6.7,"n":1},{"x":-11.7,"y":-6.7,"n":12},{"x":-11.5,"y":-6.7,"n":2},{"x":-10.9,"y":-6.7,"n":1},{"x":-10.7,"y":-6.7,"n":1},{"x":-10.5,"y":-6.7,"n":12},{"x":-10.3,"y":-6.7,"n":5},{"x":-9.9,"y":-6.7,"n":3},{"x":-9.7,"y":-6.7,"n":8},{"x":-9.5,"y":-6.7,"n":5},{"x":-8.3,"y":-6.7,"n":12},{"x":-8.1,"y":-6.7,"n":8},{"x":-7.9,"y":-6.7,"n":43},{"x":-7.7,"y":-6.7,"n":18},{"x":-7.5,"y":-6.7,"n":66},{"x":-7.3,"y":-6.7,"n":43},{"x":-7.1,"y":-6.7,"n":12},{"x":-6.9,"y":-6.7,"n":66},{"x":-6.7,"y":-6.7,"n":12},{"x":-6.5,"y":-6.7,"n":255},{"x":-6.3,"y":-6.7,"n":66},{"x":-6.1,"y":-6.7,"n":18},{"x":-5.9,"y":-6.7,"n":66},{"x":-5.7,"y":-6.7,"n":66},{"x":-5.5,"y":-6.7,"n":8},{"x":-5.3,"y":-6.7,"n":43},{"x":-5.1,"y":-6.7,"n":105},{"x":-4.9,"y":-6.7,"n":105},{"x":-4.7,"y":-6.7,"n":165},{"x":-4.5,"y":-6.7,"n":165},{"x":-4.1,"y":-6.7,"n":255},{"x":-3.9,"y":-6.7,"n":395},{"x":-3.7,"y":-6.7,"n":1460},{"x":-3.5,"y":-6.7,"n":610},{"x":-3.3,"y":-6.7,"n":395},{"x":-3.1,"y":-6.7,"n":66},{"x":-2.9,"y":-6.7,"n":105},{"x":-2.7,"y":-6.7,"n":610},{"x":-2.5,"y":-6.7,"n":1460},{"x":-2.3,"y":-6.7,"n":395},
{"x":-11.9,"y":-6.9,"n":5},{"x":-11.7,"y":-6.9,"n":8},{"x":-11.5,"y":-6.9,"n":5},{"x":-10.7,"y":-6.9,"n":1},{"x":-10.3,"y":-6.9,"n":28},{"x":-10.1,"y":-6.9,"n":8},{"x":-9.7,"y":-6.9,"n":8},{"x":-9.5,"y":-6.9,"n":5},{"x":-9.3,"y":-6.9,"n":12},{"x":-9.1,"y":-6.9,"n":8},{"x":-8.9,"y":-6.9,"n":5},{"x":-8.7,"y":-6.9,"n":8},{"x":-8.5,"y":-6.9,"n":12},{"x":-8.3,"y":-6.9,"n":28},{"x":-8.1,"y":-6.9,"n":28},{"x":-7.9,"y":-6.9,"n":18},{"x":-7.7,"y":-6.9,"n":105},{"x":-7.5,"y":-6.9,"n":18},{"x":-7.3,"y":-6.9,"n":8},{"x":-7.1,"y":-6.9,"n":12},{"x":-6.9,"y":-6.9,"n":66},{"x":-6.5,"y":-6.9,"n":255},{"x":-6.3,"y":-6.9,"n":66},{"x":-6.1,"y":-6.9,"n":1},{"x":-5.9,"y":-6.9,"n":105},{"x":-5.7,"y":-6.9,"n":43},{"x":-5.5,"y":-6.9,"n":66},{"x":-5.3,"y":-6.9,"n":66},{"x":-5.1,"y":-6.9,"n":28},{"x":-4.9,"y":-6.9,"n":43},{"x":-4.7,"y":-6.9,"n":28},{"x":-4.5,"y":-6.9,"n":105},{"x":-4.1,"y":-6.9,"n":395},{"x":-3.9,"y":-6.9,"n":105},{"x":-3.7,"y":-6.9,"n":2260},{"x":-3.5,"y":-6.9,"n":950},{"x":-3.3,"y":-6.9,"n":105},{"x":-3.1,"y":-6.9,"n":43},{"x":-2.9,"y":-6.9,"n":165},{"x":-2.7,"y":-6.9,"n":1460},{"x":-2.5,"y":-6.9,"n":395},{"x":-2.3,"y":-6.9,"n":395},
{"x":-11.7,"y":-7.1,"n":8},{"x":-11.1,"y":-7.1,"n":3},{"x":-10.1,"y":-7.1,"n":5},{"x":-9.9,"y":-7.1,"n":43},{"x":-9.7,"y":-7.1,"n":28},{"x":-9.5,"y":-7.1,"n":18},{"x":-9.3,"y":-7.1,"n":12},{"x":-9.1,"y":-7.1,"n":5},{"x":-8.9,"y":-7.1,"n":18},{"x":-8.7,"y":-7.1,"n":2},{"x":-8.5,"y":-7.1,"n":18},{"x":-8.3,"y":-7.1,"n":28},{"x":-8.1,"y":-7.1,"n":5},{"x":-7.9,"y":-7.1,"n":8},{"x":-7.7,"y":-7.1,"n":18},{"x":-7.5,"y":-7.1,"n":28},{"x":-7.3,"y":-7.1,"n":8},{"x":-7.1,"y":-7.1,"n":18},{"x":-6.9,"y":-7.1,"n":43},{"x":-6.7,"y":-7.1,"n":18},{"x":-6.5,"y":-7.1,"n":255},{"x":-6.3,"y":-7.1,"n":66},{"x":-6.1,"y":-7.1,"n":18},{"x":-5.9,"y":-7.1,"n":105},{"x":-5.7,"y":-7.1,"n":8},{"x":-5.5,"y":-7.1,"n":12},{"x":-5.3,"y":-7.1,"n":28},{"x":-5.1,"y":-7.1,"n":43},{"x":-4.9,"y":-7.1,"n":43},{"x":-4.7,"y":-7.1,"n":43},{"x":-4.5,"y":-7.1,"n":66},{"x":-4.3,"y":-7.1,"n":12},{"x":-4.1,"y":-7.1,"n":395},{"x":-3.9,"y":-7.1,"n":255},{"x":-3.7,"y":-7.1,"n":2260},{"x":-3.5,"y":-7.1,"n":255},{"x":-3.3,"y":-7.1,"n":105},{"x":-3.1,"y":-7.1,"n":43},{"x":-2.9,"y":-7.1,"n":255},{"x":-2.7,"y":-7.1,"n":2260},{"x":-2.5,"y":-7.1,"n":2},{"x":-2.3,"y":-7.1,"n":395},
{"x":-11.5,"y":-7.3,"n":8},{"x":-10.7,"y":-7.3,"n":2},{"x":-10.3,"y":-7.3,"n":2},{"x":-9.7,"y":-7.3,"n":2},{"x":-9.5,"y":-7.3,"n":28},{"x":-9.3,"y":-7.3,"n":28},{"x":-9.1,"y":-7.3,"n":43},{"x":-8.9,"y":-7.3,"n":28},{"x":-8.7,"y":-7.3,"n":66},{"x":-8.5,"y":-7.3,"n":66},{"x":-8.3,"y":-7.3,"n":8},{"x":-8.1,"y":-7.3,"n":5},{"x":-7.9,"y":-7.3,"n":8},{"x":-7.7,"y":-7.3,"n":18},{"x":-7.5,"y":-7.3,"n":28},{"x":-7.1,"y":-7.3,"n":43},{"x":-6.9,"y":-7.3,"n":66},{"x":-6.7,"y":-7.3,"n":18},{"x":-6.5,"y":-7.3,"n":43},{"x":-6.3,"y":-7.3,"n":165},{"x":-5.9,"y":-7.3,"n":66},{"x":-5.7,"y":-7.3,"n":43},{"x":-5.5,"y":-7.3,"n":12},{"x":-5.3,"y":-7.3,"n":28},{"x":-4.9,"y":-7.3,"n":66},{"x":-4.7,"y":-7.3,"n":105},{"x":-4.3,"y":-7.3,"n":66},{"x":-4.1,"y":-7.3,"n":950},{"x":-3.9,"y":-7.3,"n":1460},{"x":-3.7,"y":-7.3,"n":950},{"x":-3.5,"y":-7.3,"n":255},{"x":-3.3,"y":-7.3,"n":105},{"x":-3.1,"y":-7.3,"n":28},{"x":-2.9,"y":-7.3,"n":1460},{"x":-2.7,"y":-7.3,"n":395},{"x":-2.5,"y":-7.3,"n":395},{"x":-2.3,"y":-7.3,"n":610},
{"x":-11.5,"y":-7.5,"n":18},{"x":-9.9,"y":-7.5,"n":1},{"x":-9.7,"y":-7.5,"n":2},{"x":-9.5,"y":-7.5,"n":1},{"x":-9.3,"y":-7.5,"n":5},{"x":-9.1,"y":-7.5,"n":5},{"x":-8.9,"y":-7.5,"n":5},{"x":-8.7,"y":-7.5,"n":8},{"x":-8.5,"y":-7.5,"n":8},{"x":-8.3,"y":-7.5,"n":105},{"x":-8.1,"y":-7.5,"n":28},{"x":-7.9,"y":-7.5,"n":18},{"x":-7.7,"y":-7.5,"n":12},{"x":-7.3,"y":-7.5,"n":18},{"x":-7.1,"y":-7.5,"n":66},{"x":-6.9,"y":-7.5,"n":1},{"x":-6.7,"y":-7.5,"n":3},{"x":-6.5,"y":-7.5,"n":43},{"x":-6.3,"y":-7.5,"n":255},{"x":-6.1,"y":-7.5,"n":8},{"x":-5.9,"y":-7.5,"n":66},{"x":-5.7,"y":-7.5,"n":28},{"x":-5.5,"y":-7.5,"n":18},{"x":-5.3,"y":-7.5,"n":43},{"x":-5.1,"y":-7.5,"n":8},{"x":-4.9,"y":-7.5,"n":28},{"x":-4.7,"y":-7.5,"n":105},{"x":-4.5,"y":-7.5,"n":12},{"x":-4.3,"y":-7.5,"n":105},{"x":-4.1,"y":-7.5,"n":1460},{"x":-3.9,"y":-7.5,"n":1460},{"x":-3.7,"y":-7.5,"n":255},{"x":-3.5,"y":-7.5,"n":255},{"x":-3.3,"y":-7.5,"n":165},{"x":-3.1,"y":-7.5,"n":950},{"x":-2.9,"y":-7.5,"n":255},{"x":-2.7,"y":-7.5,"n":8},{"x":-2.5,"y":-7.5,"n":950},{"x":-2.3,"y":-7.5,"n":610},
{"x":-11.5,"y":-7.7,"n":2},{"x":-11.3,"y":-7.7,"n":18},{"x":-9.1,"y":-7.7,"n":1},{"x":-8.9,"y":-7.7,"n":3},{"x":-8.7,"y":-7.7,"n":12},{"x":-8.3,"y":-7.7,"n":66},{"x":-8.1,"y":-7.7,"n":18},{"x":-7.9,"y":-7.7,"n":12},{"x":-7.3,"y":-7.7,"n":12},{"x":-7.1,"y":-7.7,"n":28},{"x":-6.9,"y":-7.7,"n":5},{"x":-6.5,"y":-7.7,"n":18},{"x":-6.3,"y":-7.7,"n":255},{"x":-6.1,"y":-7.7,"n":12},{"x":-5.9,"y":-7.7,"n":28},{"x":-5.7,"y":-7.7,"n":28},{"x":-5.5,"y":-7.7,"n":28},{"x":-5.3,"y":-7.7,"n":12},{"x":-5.1,"y":-7.7,"n":66},{"x":-4.9,"y":-7.7,"n":28},{"x":-4.7,"y":-7.7,"n":66},{"x":-4.5,"y":-7.7,"n":66},{"x":-4.3,"y":-7.7,"n":610},{"x":-4.1,"y":-7.7,"n":950},{"x":-3.9,"y":-7.7,"n":1460},{"x":-3.7,"y":-7.7,"n":105},{"x":-3.5,"y":-7.7,"n":395},{"x":-3.3,"y":-7.7,"n":950},{"x":-3.1,"y":-7.7,"n":255},{"x":-2.9,"y":-7.7,"n":105},{"x":-2.7,"y":-7.7,"n":1},{"x":-2.5,"y":-7.7,"n":950},{"x":-2.3,"y":-7.7,"n":610},
{"x":-11.3,"y":-7.9,"n":2},{"x":-11.1,"y":-7.9,"n":12},{"x":-8.9,"y":-7.9,"n":3},{"x":-8.1,"y":-7.9,"n":2},{"x":-7.3,"y":-7.9,"n":18},{"x":-7.1,"y":-7.9,"n":43},{"x":-6.9,"y":-7.9,"n":66},{"x":-6.5,"y":-7.9,"n":5},{"x":-6.3,"y":-7.9,"n":255},{"x":-6.1,"y":-7.9,"n":66},{"x":-5.9,"y":-7.9,"n":28},{"x":-5.7,"y":-7.9,"n":28},{"x":-5.5,"y":-7.9,"n":18},{"x":-5.1,"y":-7.9,"n":105},{"x":-4.9,"y":-7.9,"n":105},{"x":-4.7,"y":-7.9,"n":105},{"x":-4.5,"y":-7.9,"n":610},{"x":-4.3,"y":-7.9,"n":66},{"x":-4.1,"y":-7.9,"n":610},{"x":-3.9,"y":-7.9,"n":950},{"x":-3.7,"y":-7.9,"n":610},{"x":-3.5,"y":-7.9,"n":950},{"x":-3.1,"y":-7.9,"n":105},{"x":-2.9,"y":-7.9,"n":105},{"x":-2.5,"y":-7.9,"n":1460},{"x":-2.3,"y":-7.9,"n":610},
{"x":-11.1,"y":-8.1,"n":5},{"x":-10.9,"y":-8.1,"n":18},{"x":-9.3,"y":-8.1,"n":2},{"x":-8.7,"y":-8.1,"n":2},{"x":-8.1,"y":-8.1,"n":1},{"x":-7.9,"y":-8.1,"n":8},{"x":-7.1,"y":-8.1,"n":5},{"x":-6.9,"y":-8.1,"n":43},{"x":-6.7,"y":-8.1,"n":28},{"x":-6.5,"y":-8.1,"n":12},{"x":-6.3,"y":-8.1,"n":255},{"x":-6.1,"y":-8.1,"n":105},{"x":-5.9,"y":-8.1,"n":18},{"x":-5.7,"y":-8.1,"n":43},{"x":-5.5,"y":-8.1,"n":12},{"x":-5.3,"y":-8.1,"n":28},{"x":-5.1,"y":-8.1,"n":105},{"x":-4.9,"y":-8.1,"n":43},{"x":-4.7,"y":-8.1,"n":395},{"x":-4.5,"y":-8.1,"n":105},{"x":-4.3,"y":-8.1,"n":66},{"x":-4.1,"y":-8.1,"n":1460},{"x":-3.9,"y":-8.1,"n":950},{"x":-3.7,"y":-8.1,"n":395},{"x":-3.5,"y":-8.1,"n":395},{"x":-3.1,"y":-8.1,"n":105},{"x":-2.9,"y":-8.1,"n":8},{"x":-2.7,"y":-8.1,"n":105},{"x":-2.5,"y":-8.1,"n":1460},{"x":-2.3,"y":-8.1,"n":610},
{"x":-10.9,"y":-8.3,"n":8},{"x":-10.7,"y":-8.3,"n":28},{"x":-8.7,"y":-8.3,"n":8},{"x":-7.1,"y":-8.3,"n":12},{"x":-6.9,"y":-8.3,"n":28},{"x":-6.7,"y":-8.3,"n":12},{"x":-6.5,"y":-8.3,"n":43},{"x":-6.3,"y":-8.3,"n":255},{"x":-6.1,"y":-8.3,"n":43},{"x":-5.9,"y":-8.3,"n":12},{"x":-5.7,"y":-8.3,"n":43},{"x":-5.5,"y":-8.3,"n":66},{"x":-5.3,"y":-8.3,"n":66},{"x":-5.1,"y":-8.3,"n":165},{"x":-4.9,"y":-8.3,"n":395},{"x":-4.5,"y":-8.3,"n":255},{"x":-4.3,"y":-8.3,"n":950},{"x":-4.1,"y":-8.3,"n":395},{"x":-3.9,"y":-8.3,"n":610},{"x":-3.7,"y":-8.3,"n":105},{"x":-3.5,"y":-8.3,"n":255},{"x":-3.1,"y":-8.3,"n":105},{"x":-2.9,"y":-8.3,"n":2},{"x":-2.7,"y":-8.3,"n":105},{"x":-2.5,"y":-8.3,"n":1460},{"x":-2.3,"y":-8.3,"n":950},
{"x":-10.5,"y":-8.5,"n":18},{"x":-10.3,"y":-8.5,"n":28},{"x":-10.1,"y":-8.5,"n":1},{"x":-8.3,"y":-8.5,"n":2},{"x":-7.1,"y":-8.5,"n":5},{"x":-6.9,"y":-8.5,"n":12},{"x":-6.7,"y":-8.5,"n":66},{"x":-6.5,"y":-8.5,"n":105},{"x":-6.3,"y":-8.5,"n":165},{"x":-6.1,"y":-8.5,"n":18},{"x":-5.9,"y":-8.5,"n":28},{"x":-5.7,"y":-8.5,"n":43},{"x":-5.5,"y":-8.5,"n":43},{"x":-5.3,"y":-8.5,"n":255},{"x":-5.1,"y":-8.5,"n":105},{"x":-4.9,"y":-8.5,"n":105},{"x":-4.7,"y":-8.5,"n":255},{"x":-4.5,"y":-8.5,"n":395},{"x":-4.3,"y":-8.5,"n":28},{"x":-4.1,"y":-8.5,"n":255},{"x":-3.9,"y":-8.5,"n":395},{"x":-3.7,"y":-8.5,"n":255},{"x":-3.5,"y":-8.5,"n":255},{"x":-3.3,"y":-8.5,"n":12},{"x":-3.1,"y":-8.5,"n":105},{"x":-2.9,"y":-8.5,"n":1},{"x":-2.7,"y":-8.5,"n":105},{"x":-2.5,"y":-8.5,"n":1460},{"x":-2.3,"y":-8.5,"n":950},
{"x":-10.1,"y":-8.7,"n":12},{"x":-9.9,"y":-8.7,"n":28},{"x":-9.7,"y":-8.7,"n":28},{"x":-9.5,"y":-8.7,"n":28},{"x":-9.3,"y":-8.7,"n":18},{"x":-8.9,"y":-8.7,"n":1},{"x":-8.3,"y":-8.7,"n":8},{"x":-8.1,"y":-8.7,"n":2},{"x":-6.9,"y":-8.7,"n":12},{"x":-6.7,"y":-8.7,"n":105},{"x":-6.5,"y":-8.7,"n":165},{"x":-6.3,"y":-8.7,"n":12},{"x":-6.1,"y":-8.7,"n":66},{"x":-5.9,"y":-8.7,"n":28},{"x":-5.7,"y":-8.7,"n":105},{"x":-5.5,"y":-8.7,"n":255},{"x":-5.3,"y":-8.7,"n":105},{"x":-5.1,"y":-8.7,"n":105},{"x":-4.9,"y":-8.7,"n":105},{"x":-4.7,"y":-8.7,"n":66},{"x":-4.5,"y":-8.7,"n":66},{"x":-4.3,"y":-8.7,"n":8},{"x":-4.1,"y":-8.7,"n":255},{"x":-3.9,"y":-8.7,"n":610},{"x":-3.7,"y":-8.7,"n":255},{"x":-3.5,"y":-8.7,"n":165},{"x":-3.3,"y":-8.7,"n":66},{"x":-3.1,"y":-8.7,"n":105},{"x":-2.9,"y":-8.7,"n":8},{"x":-2.7,"y":-8.7,"n":1460},{"x":-2.5,"y":-8.7,"n":1460},{"x":-2.3,"y":-8.7,"n":255},
{"x":-9.3,"y":-8.9,"n":28},{"x":-9.1,"y":-8.9,"n":18},{"x":-8.9,"y":-8.9,"n":28},{"x":-8.7,"y":-8.9,"n":28},{"x":-8.5,"y":-8.9,"n":105},{"x":-8.3,"y":-8.9,"n":66},{"x":-8.1,"y":-8.9,"n":66},{"x":-7.9,"y":-8.9,"n":66},{"x":-7.7,"y":-8.9,"n":12},{"x":-7.1,"y":-8.9,"n":8},{"x":-6.9,"y":-8.9,"n":66},{"x":-6.7,"y":-8.9,"n":165},{"x":-6.5,"y":-8.9,"n":105},{"x":-6.3,"y":-8.9,"n":66},{"x":-6.1,"y":-8.9,"n":105},{"x":-5.9,"y":-8.9,"n":165},{"x":-5.7,"y":-8.9,"n":105},{"x":-5.5,"y":-8.9,"n":28},{"x":-5.3,"y":-8.9,"n":43},{"x":-5.1,"y":-8.9,"n":105},{"x":-4.9,"y":-8.9,"n":43},{"x":-4.7,"y":-8.9,"n":18},{"x":-4.5,"y":-8.9,"n":28},{"x":-4.3,"y":-8.9,"n":12},{"x":-4.1,"y":-8.9,"n":255},{"x":-3.9,"y":-8.9,"n":610},{"x":-3.7,"y":-8.9,"n":255},{"x":-3.5,"y":-8.9,"n":165},{"x":-3.3,"y":-8.9,"n":105},{"x":-3.1,"y":-8.9,"n":105},{"x":-2.9,"y":-8.9,"n":5},{"x":-2.7,"y":-8.9,"n":2260},{"x":-2.5,"y":-8.9,"n":1460},
{"x":-7.9,"y":-9.1,"n":28},{"x":-7.7,"y":-9.1,"n":43},{"x":-7.5,"y":-9.1,"n":28},{"x":-7.3,"y":-9.1,"n":5},{"x":-6.9,"y":-9.1,"n":28},{"x":-6.7,"y":-9.1,"n":43},{"x":-6.5,"y":-9.1,"n":66},{"x":-6.3,"y":-9.1,"n":12},{"x":-6.1,"y":-9.1,"n":28},{"x":-5.9,"y":-9.1,"n":28},{"x":-5.7,"y":-9.1,"n":105},{"x":-5.5,"y":-9.1,"n":105},{"x":-5.3,"y":-9.1,"n":43},{"x":-5.1,"y":-9.1,"n":8},{"x":-4.9,"y":-9.1,"n":28},{"x":-4.7,"y":-9.1,"n":3},{"x":-4.3,"y":-9.1,"n":66},{"x":-4.1,"y":-9.1,"n":255},{"x":-3.9,"y":-9.1,"n":105},{"x":-3.7,"y":-9.1,"n":610},{"x":-3.5,"y":-9.1,"n":395},{"x":-3.3,"y":-9.1,"n":105},{"x":-3.1,"y":-9.1,"n":105},{"x":-2.7,"y":-9.1,"n":1460},{"x":-2.5,"y":-9.1,"n":1460},
{"x":-7.5,"y":-9.3,"n":2},{"x":-7.3,"y":-9.3,"n":43},{"x":-7.1,"y":-9.3,"n":18},{"x":-6.5,"y":-9.3,"n":2},{"x":-6.3,"y":-9.3,"n":43},{"x":-6.1,"y":-9.3,"n":105},{"x":-5.9,"y":-9.3,"n":66},{"x":-5.7,"y":-9.3,"n":66},{"x":-5.5,"y":-9.3,"n":43},{"x":-5.3,"y":-9.3,"n":43},{"x":-5.1,"y":-9.3,"n":1},{"x":-4.7,"y":-9.3,"n":8},{"x":-4.3,"y":-9.3,"n":66},{"x":-4.1,"y":-9.3,"n":255},{"x":-3.9,"y":-9.3,"n":66},{"x":-3.7,"y":-9.3,"n":610},{"x":-3.5,"y":-9.3,"n":395},{"x":-3.3,"y":-9.3,"n":105},{"x":-3.1,"y":-9.3,"n":165},{"x":-2.9,"y":-9.3,"n":610},{"x":-2.7,"y":-9.3,"n":1460},{"x":-2.5,"y":-9.3,"n":1460},
{"x":-7.1,"y":-9.5,"n":12},{"x":-6.9,"y":-9.5,"n":43},{"x":-6.7,"y":-9.5,"n":18},{"x":-6.3,"y":-9.5,"n":18},{"x":-6.1,"y":-9.5,"n":12},{"x":-5.9,"y":-9.5,"n":105},{"x":-5.7,"y":-9.5,"n":28},{"x":-5.5,"y":-9.5,"n":18},{"x":-5.3,"y":-9.5,"n":43},{"x":-4.7,"y":-9.5,"n":28},{"x":-4.1,"y":-9.5,"n":255},{"x":-3.9,"y":-9.5,"n":610},{"x":-3.7,"y":-9.5,"n":255},{"x":-3.5,"y":-9.5,"n":255},{"x":-3.3,"y":-9.5,"n":105},{"x":-3.1,"y":-9.5,"n":255},{"x":-2.9,"y":-9.5,"n":1460},{"x":-2.7,"y":-9.5,"n":1460},{"x":-2.5,"y":-9.5,"n":255},
{"x":-6.9,"y":-9.7,"n":8},{"x":-6.7,"y":-9.7,"n":8},{"x":-6.5,"y":-9.7,"n":28},{"x":-6.3,"y":-9.7,"n":18},{"x":-5.9,"y":-9.7,"n":8},{"x":-5.7,"y":-9.7,"n":105},{"x":-5.5,"y":-9.7,"n":2},{"x":-5.3,"y":-9.7,"n":12},{"x":-5.1,"y":-9.7,"n":18},{"x":-4.7,"y":-9.7,"n":5},{"x":-4.5,"y":-9.7,"n":8},{"x":-4.1,"y":-9.7,"n":43},{"x":-3.9,"y":-9.7,"n":950},{"x":-3.7,"y":-9.7,"n":165},{"x":-3.5,"y":-9.7,"n":105},{"x":-3.3,"y":-9.7,"n":255},{"x":-3.1,"y":-9.7,"n":950},{"x":-2.9,"y":-9.7,"n":950},{"x":-2.7,"y":-9.7,"n":950},{"x":-2.5,"y":-9.7,"n":395},
{"x":-6.5,"y":-9.9,"n":3},{"x":-6.3,"y":-9.9,"n":5},{"x":-6.1,"y":-9.9,"n":28},{"x":-5.9,"y":-9.9,"n":8},{"x":-5.7,"y":-9.9,"n":5},{"x":-5.5,"y":-9.9,"n":105},{"x":-5.1,"y":-9.9,"n":43},{"x":-4.9,"y":-9.9,"n":28},{"x":-4.5,"y":-9.9,"n":18},{"x":-4.1,"y":-9.9,"n":12},{"x":-3.9,"y":-9.9,"n":950},{"x":-3.7,"y":-9.9,"n":165},{"x":-3.5,"y":-9.9,"n":105},{"x":-3.3,"y":-9.9,"n":610},{"x":-3.1,"y":-9.9,"n":950},{"x":-2.9,"y":-9.9,"n":1460},{"x":-2.5,"y":-9.9,"n":255},{"x":-2.3,"y":-9.9,"n":165},
{"x":-6.1,"y":-10.1,"n":28},{"x":-5.9,"y":-10.1,"n":8},{"x":-5.7,"y":-10.1,"n":3},{"x":-5.5,"y":-10.1,"n":105},{"x":-5.3,"y":-10.1,"n":12},{"x":-5.1,"y":-10.1,"n":1},{"x":-4.9,"y":-10.1,"n":105},{"x":-4.5,"y":-10.1,"n":18},{"x":-4.3,"y":-10.1,"n":8},{"x":-4.1,"y":-10.1,"n":165},{"x":-3.9,"y":-10.1,"n":950},{"x":-3.7,"y":-10.1,"n":165},{"x":-3.5,"y":-10.1,"n":255},{"x":-3.3,"y":-10.1,"n":610},{"x":-3.1,"y":-10.1,"n":1460},{"x":-2.9,"y":-10.1,"n":395},{"x":-2.3,"y":-10.1,"n":610},
{"x":-5.9,"y":-10.3,"n":28},{"x":-5.7,"y":-10.3,"n":8},{"x":-5.5,"y":-10.3,"n":8},{"x":-5.3,"y":-10.3,"n":165},{"x":-4.9,"y":-10.3,"n":43},{"x":-4.7,"y":-10.3,"n":43},{"x":-4.5,"y":-10.3,"n":18},{"x":-4.3,"y":-10.3,"n":12},{"x":-4.1,"y":-10.3,"n":610},{"x":-3.9,"y":-10.3,"n":66},{"x":-3.7,"y":-10.3,"n":950},{"x":-3.5,"y":-10.3,"n":395},{"x":-3.3,"y":-10.3,"n":610},{"x":-3.1,"y":-10.3,"n":610},{"x":-2.9,"y":-10.3,"n":395},{"x":-2.3,"y":-10.3,"n":610},
{"x":-5.9,"y":-10.5,"n":5},{"x":-5.7,"y":-10.5,"n":12},{"x":-5.5,"y":-10.5,"n":5},{"x":-5.3,"y":-10.5,"n":165},{"x":-5.1,"y":-10.5,"n":5},{"x":-4.9,"y":-10.5,"n":12},{"x":-4.7,"y":-10.5,"n":66},{"x":-4.5,"y":-10.5,"n":43},{"x":-4.3,"y":-10.5,"n":255},{"x":-4.1,"y":-10.5,"n":165},{"x":-3.9,"y":-10.5,"n":165},{"x":-3.7,"y":-10.5,"n":610},{"x":-3.5,"y":-10.5,"n":610},{"x":-3.3,"y":-10.5,"n":255},{"x":-2.9,"y":-10.5,"n":610},{"x":-2.7,"y":-10.5,"n":105},{"x":-2.3,"y":-10.5,"n":950},
{"x":-5.7,"y":-10.7,"n":28},{"x":-5.5,"y":-10.7,"n":18},{"x":-5.3,"y":-10.7,"n":105},{"x":-5.1,"y":-10.7,"n":28},{"x":-4.9,"y":-10.7,"n":105},{"x":-4.7,"y":-10.7,"n":105},{"x":-4.5,"y":-10.7,"n":66},{"x":-4.3,"y":-10.7,"n":395},{"x":-4.1,"y":-10.7,"n":255},{"x":-3.9,"y":-10.7,"n":105},{"x":-3.7,"y":-10.7,"n":610},{"x":-3.5,"y":-10.7,"n":610},{"x":-3.3,"y":-10.7,"n":43},{"x":-2.9,"y":-10.7,"n":395},{"x":-2.7,"y":-10.7,"n":395},{"x":-2.3,"y":-10.7,"n":950},
{"x":-5.5,"y":-10.9,"n":12},{"x":-5.3,"y":-10.9,"n":105},{"x":-5.1,"y":-10.9,"n":66},{"x":-4.9,"y":-10.9,"n":105},{"x":-4.7,"y":-10.9,"n":66},{"x":-4.5,"y":-10.9,"n":28},{"x":-4.3,"y":-10.9,"n":165},{"x":-4.1,"y":-10.9,"n":255},{"x":-3.9,"y":-10.9,"n":255},{"x":-3.5,"y":-10.9,"n":395},{"x":-3.3,"y":-10.9,"n":255},{"x":-2.7,"y":-10.9,"n":950},{"x":-2.3,"y":-10.9,"n":165},{"x":-2.1,"y":-10.9,"n":950},
{"x":-5.3,"y":-11.1,"n":28},{"x":-5.1,"y":-11.1,"n":8},{"x":-4.7,"y":-11.1,"n":18},{"x":-4.5,"y":-11.1,"n":18},{"x":-3.9,"y":-11.1,"n":18},{"x":-3.5,"y":-11.1,"n":165},{"x":-3.3,"y":-11.1,"n":610},{"x":-3.1,"y":-11.1,"n":66},{"x":-2.7,"y":-11.1,"n":610},{"x":-2.5,"y":-11.1,"n":610},{"x":-2.1,"y":-11.1,"n":950},
{"x":-5.1,"y":-11.3,"n":28},{"x":-4.9,"y":-11.3,"n":28},{"x":-4.5,"y":-11.3,"n":18},{"x":-4.3,"y":-11.3,"n":12},{"x":-3.9,"y":-11.3,"n":66},{"x":-3.3,"y":-11.3,"n":610},{"x":-3.1,"y":-11.3,"n":395},{"x":-2.7,"y":-11.3,"n":395},{"x":-2.5,"y":-11.3,"n":950},{"x":-2.1,"y":-11.3,"n":950},
{"x":-4.9,"y":-11.5,"n":8},{"x":-4.7,"y":-11.5,"n":43},{"x":-4.5,"y":-11.5,"n":28},{"x":-4.3,"y":-11.5,"n":8},{"x":-4.1,"y":-11.5,"n":12},{"x":-3.1,"y":-11.5,"n":950},{"x":-2.5,"y":-11.5,"n":1460},{"x":-2.1,"y":-11.5,"n":950},
{"x":-4.5,"y":-11.7,"n":66},{"x":-4.3,"y":-11.7,"n":43},{"x":-3.1,"y":-11.7,"n":610},{"x":-2.9,"y":-11.7,"n":610},{"x":-2.5,"y":-11.7,"n":950},{"x":-2.3,"y":-11.7,"n":610},{"x":-2.1,"y":-11.7,"n":950},
{"x":-4.3,"y":-11.9,"n":43},{"x":-4.1,"y":-11.9,"n":66},{"x":-2.9,"y":-11.9,"n":1460},{"x":-2.7,"y":-11.9,"n":105},{"x":-2.5,"y":-11.9,"n":610},{"x":-2.3,"y":-11.9,"n":950},{"x":-2.1,"y":-11.9,"n":950},
{"x":-4.1,"y":-12.1,"n":18},{"x":-3.9,"y":-12.1,"n":105},{"x":-2.9,"y":-12.1,"n":395},{"x":-2.7,"y":-12.1,"n":1460},{"x":-2.5,"y":-12.1,"n":610},{"x":-2.3,"y":-12.1,"n":950},{"x":-2.1,"y":-12.1,"n":950},
{"x":-3.9,"y":-12.3,"n":18},{"x":-3.7,"y":-12.3,"n":105},{"x":-3.1,"y":-12.3,"n":18},{"x":-2.9,"y":-12.3,"n":395},{"x":-2.7,"y":-12.3,"n":255},{"x":-2.5,"y":-12.3,"n":1460},{"x":-2.3,"y":-12.3,"n":950},{"x":-2.1,"y":-12.3,"n":610},
{"x":-3.7,"y":-12.5,"n":66},{"x":-3.5,"y":-12.5,"n":66},{"x":-2.9,"y":-12.5,"n":610},{"x":-2.7,"y":-12.5,"n":395},{"x":-2.5,"y":-12.5,"n":950},{"x":-2.3,"y":-12.5,"n":2260},{"x":-2.1,"y":-12.5,"n":255},
{"x":-3.5,"y":-12.7,"n":165},{"x":-3.3,"y":-12.7,"n":105},{"x":-3.1,"y":-12.7,"n":66},{"x":-2.9,"y":-12.7,"n":395},{"x":-2.7,"y":-12.7,"n":610},{"x":-2.5,"y":-12.7,"n":950},{"x":-2.3,"y":-12.7,"n":3500},{"x":-2.1,"y":-12.7,"n":950},
{"x":-3.3,"y":-12.9,"n":165},{"x":-3.1,"y":-12.9,"n":105},{"x":-2.7,"y":-12.9,"n":105},{"x":-2.5,"y":-12.9,"n":105},{"x":-2.1,"y":-12.9,"n":2260},{"x":-1.9,"y":-12.9,"n":395},
{"x":-1.9,"y":-13.1,"n":3500},
{"x":-1.9,"y":-13.3,"n":610},{"x":-1.7,"y":-13.3,"n":3500},
{"x":-1.7,"y":-13.5,"n":2260},{"x":-1.5,"y":-13.5,"n":2260},
{"x":-1.5,"y":-13.7,"n":5400},{"x":-1.3,"y":-13.7,"n":395},
{"x":-1.3,"y":-13.9,"n":5400},
{"x":-1.3,"y":-14.1,"n":2260},{"x":-1.1,"y":-14.1,"n":2260},
{"x":-1.1,"y":-14.3,"n":5400},
{"x":-1.1,"y":-14.5,"n":950},{"x":-0.9,"y":-14.5,"n":5400},{"x":-0.7,"y":-14.5,"n":610},
{"x":-0.9,"y":-14.7,"n":5400},{"x":-0.7,"y":-14.7,"n":5400}
]},"mark":{"type":"rect"},"encoding":{
"x":{"field":"x","type":"quantitative","bin":{"step":0.2,"extent":[-20,0]},"scale":{"domain":[-20,0],"nice":false},"title":"Pion","axis":{"values":[-20,-19.5,-19,-18.5,-18,-17.5,-17,-16.5,-16,-15.5,-15,-14.5,-14,-13.5,-13,-12.5,-12,-11.5,-11,-10.5,-10,-9.5,-9,-8.5,-8,-7.5,-7,-6.5,-6,-5.5,-5,-4.5,-4,-3.5,-3,-2.5,-2,-1.5,-1,-0.5,0],"labelExpr":"datum.value%2==0?datum.value:''","tickSize":{"condition":{"test":"datum.value%2==0","value":-23},"value":-12},"tickColor":"black","tickWidth":2,"domainColor":"black","domainWidth":2,"labelPadding":26,"labelFont":"Liberation Sans","labelFontWeight":"bold","labelFontSize":38,"labelColor":"black","labelOverlap":false,"labelBound":false,"labelFlush":false,"titleFont":"Liberation Sans","titleFontWeight":"bold","titleFontSize":35.5,"titleColor":"black","titleAnchor":"end","titlePadding":-5}},
"y":{"field":"y","type":"quantitative","bin":{"step":0.2,"extent":[-20,0]},"scale":{"domain":[-20,0],"nice":false},"title":"Kaon","axis":{"values":[-20,-19.5,-19,-18.5,-18,-17.5,-17,-16.5,-16,-15.5,-15,-14.5,-14,-13.5,-13,-12.5,-12,-11.5,-11,-10.5,-10,-9.5,-9,-8.5,-8,-7.5,-7,-6.5,-6,-5.5,-5,-4.5,-4,-3.5,-3,-2.5,-2,-1.5,-1,-0.5,0],"labelExpr":"datum.value%2==0?datum.value:''","tickSize":{"condition":{"test":"datum.value%2==0","value":-34},"value":-17},"tickColor":"black","tickWidth":2,"domainColor":"black","domainWidth":2,"labelPadding":42,"labelOffset":2,"labelFont":"Liberation Sans","labelFontWeight":"bold","labelFontSize":38,"labelColor":"black","labelOverlap":false,"labelBound":false,"labelFlush":false,"titleFont":"Liberation Sans","titleFontWeight":"bold","titleFontSize":36,"titleColor":"black","titleAnchor":"end","titlePadding":13}},
"color":{"field":"n","type":"quantitative","legend":null,"scale":{"type":"threshold","domain":[1.56,2.43,3.8,5.9,9.2,14.4,22.4,35,54,85,132,206,321,500,780,1215,1895,2950,4600],"range":["#6600ff","#3300ff","#0011ff","#0044ff","#0088ff","#00bbff","#00ffff","#00ffcc","#00ff88","#00ff55","#00ff00","#33ff00","#66ff00","#99ff00","#ddff00","#ffee00","#ffaa00","#ff7700","#ff3300","#ff0000"]}}}},
{"data":{"values":[{"p":-19.9,"k":-15.4,"g":"a"},{"p":-4.5,"k":0,"g":"a"},{"p":-19.9,"k":-19.9,"g":"b"},{"p":-0.1,"k":-0.1,"g":"b"}]},"mark":{"type":"line","color":"black","strokeWidth":6},"encoding":{"x":{"field":"p","type":"quantitative","scale":{"domain":[-20,0],"nice":false}},"y":{"field":"k","type":"quantitative","scale":{"domain":[-20,0],"nice":false}},"detail":{"field":"g"}}},
{"data":{"values":[{}]},"mark":{"type":"rect","fill":"black"},"encoding":{"x":{"datum":-22.19,"scale":{"domain":[-20,0],"nice":false}},"x2":{"datum":-17.0},"y":{"datum":2.28,"scale":{"domain":[-20,0],"nice":false}},"y2":{"datum":0.93}}},
{"data":{"values":[{}]},"mark":{"type":"rect","fill":"white","stroke":"black","strokeWidth":2},"encoding":{"x":{"datum":-22.26,"scale":{"domain":[-20,0],"nice":false}},"x2":{"datum":-17.07},"y":{"datum":2.38,"scale":{"domain":[-20,0],"nice":false}},"y2":{"datum":1.03}}},
{"data":{"values":[{}]},"mark":{"type":"rect","fill":"black"},"encoding":{"x":{"datum":-2.95,"scale":{"domain":[-20,0],"nice":false}},"x2":{"datum":2.09},"y":{"datum":2.28,"scale":{"domain":[-20,0],"nice":false}},"y2":{"datum":0.11}}},
{"data":{"values":[{}]},"mark":{"type":"rect","fill":"white","stroke":"black","strokeWidth":2},"encoding":{"x":{"datum":-3.015,"scale":{"domain":[-20,0],"nice":false}},"x2":{"datum":2.016},"y":{"datum":2.38,"scale":{"domain":[-20,0],"nice":false}},"y2":{"datum":0.207}}},
{"data":{"values":[{}]},"mark":{"type":"rule","color":"black","strokeWidth":2},"encoding":{"x":{"datum":-3.015,"scale":{"domain":[-20,0],"nice":false}},"x2":{"datum":2.016},"y":{"datum":1.294,"scale":{"domain":[-20,0],"nice":false}}}},
{"data":{"values":[{}]},"mark":{"type":"text","text":"C1_G0_Pi_K","font":"Liberation Sans","fontWeight":"bold","fontSize":43,"align":"center","baseline":"middle"},"encoding":{"x":{"datum":-19.68,"scale":{"domain":[-20,0],"nice":false}},"y":{"datum":1.71,"scale":{"domain":[-20,0],"nice":false}}}},
{"data":{"values":[{}]},"mark":{"type":"text","text":"C1_G0_Pi_K","font":"Liberation Sans","fontWeight":"bold","fontSize":37,"align":"center","baseline":"middle"},"encoding":{"x":{"datum":-0.51,"scale":{"domain":[-20,0],"nice":false}},"y":{"datum":1.84,"scale":{"domain":[-20,0],"nice":false}}}},
{"data":{"values":[{}]},"mark":{"type":"text","text":"Entries","font":"Liberation Sans","fontWeight":"bold","fontSize":32.5,"align":"left","baseline":"middle"},"encoding":{"x":{"datum":-2.75,"scale":{"domain":[-20,0],"nice":false}},"y":{"datum":0.75,"scale":{"domain":[-20,0],"nice":false}}}},
{"data":{"values":[{}]},"mark":{"type":"text","text":"349210","font":"Liberation Sans","fontWeight":"bold","fontSize":32.5,"align":"right","baseline":"middle"},"encoding":{"x":{"datum":1.75,"scale":{"domain":[-20,0],"nice":false}},"y":{"datum":0.75,"scale":{"domain":[-20,0],"nice":false}}}}
]},
{"width":64,"height":773,"data":{"values":[{"lo":1,"hi":1.56,"n":1},{"lo":1.56,"hi":2.43,"n":2},{"lo":2.43,"hi":3.8,"n":3},{"lo":3.8,"hi":5.9,"n":5},{"lo":5.9,"hi":9.2,"n":8},{"lo":9.2,"hi":14.4,"n":12},{"lo":14.4,"hi":22.4,"n":18},{"lo":22.4,"hi":35,"n":28},{"lo":35,"hi":54,"n":43},{"lo":54,"hi":85,"n":66},{"lo":85,"hi":132,"n":105},{"lo":132,"hi":206,"n":165},{"lo":206,"hi":321,"n":255},{"lo":321,"hi":500,"n":395},{"lo":500,"hi":780,"n":610},{"lo":780,"hi":1215,"n":950},{"lo":1215,"hi":1895,"n":1460},{"lo":1895,"hi":2950,"n":2260},{"lo":2950,"hi":4600,"n":3500},{"lo":4600,"hi":7200,"n":5400}]},"mark":{"type":"rect"},"encoding":{
"y":{"field":"lo","type":"quantitative","scale":{"type":"log","domain":[1,7200],"nice":false},"title":null,"axis":{"orient":"right","values":[1,2,3,4,5,6,7,8,9,10,20,30,40,50,60,70,80,90,100,200,300,400,500,600,700,800,900,1000,2000,3000,4000,5000,6000,7000],"labelExpr":"datum.value==1?'1':datum.value==10?'10':datum.value==100?'10²':datum.value==1000?'10³':''","tickSize":{"condition":{"test":"datum.value==1||datum.value==10||datum.value==100||datum.value==1000","value":-34},"value":-17},"tickColor":"black","tickWidth":2,"domainColor":"black","domainWidth":2,"labelPadding":52,"labelOffset":2,"labelFont":"Liberation Sans","labelFontWeight":"bold","labelFontSize":37,"labelColor":"black","labelOverlap":false,"labelBound":false,"labelFlush":false}},
"y2":{"field":"hi"},
"color":{"field":"n","type":"quantitative","legend":null,"scale":{"type":"threshold","domain":[1.56,2.43,3.8,5.9,9.2,14.4,22.4,35,54,85,132,206,321,500,780,1215,1895,2950,4600],"range":["#6600ff","#3300ff","#0011ff","#0044ff","#0088ff","#00bbff","#00ffff","#00ffcc","#00ff88","#00ff55","#00ff00","#33ff00","#66ff00","#99ff00","#ddff00","#ffee00","#ffaa00","#ff7700","#ff3300","#ff0000"]}}}}
]}
